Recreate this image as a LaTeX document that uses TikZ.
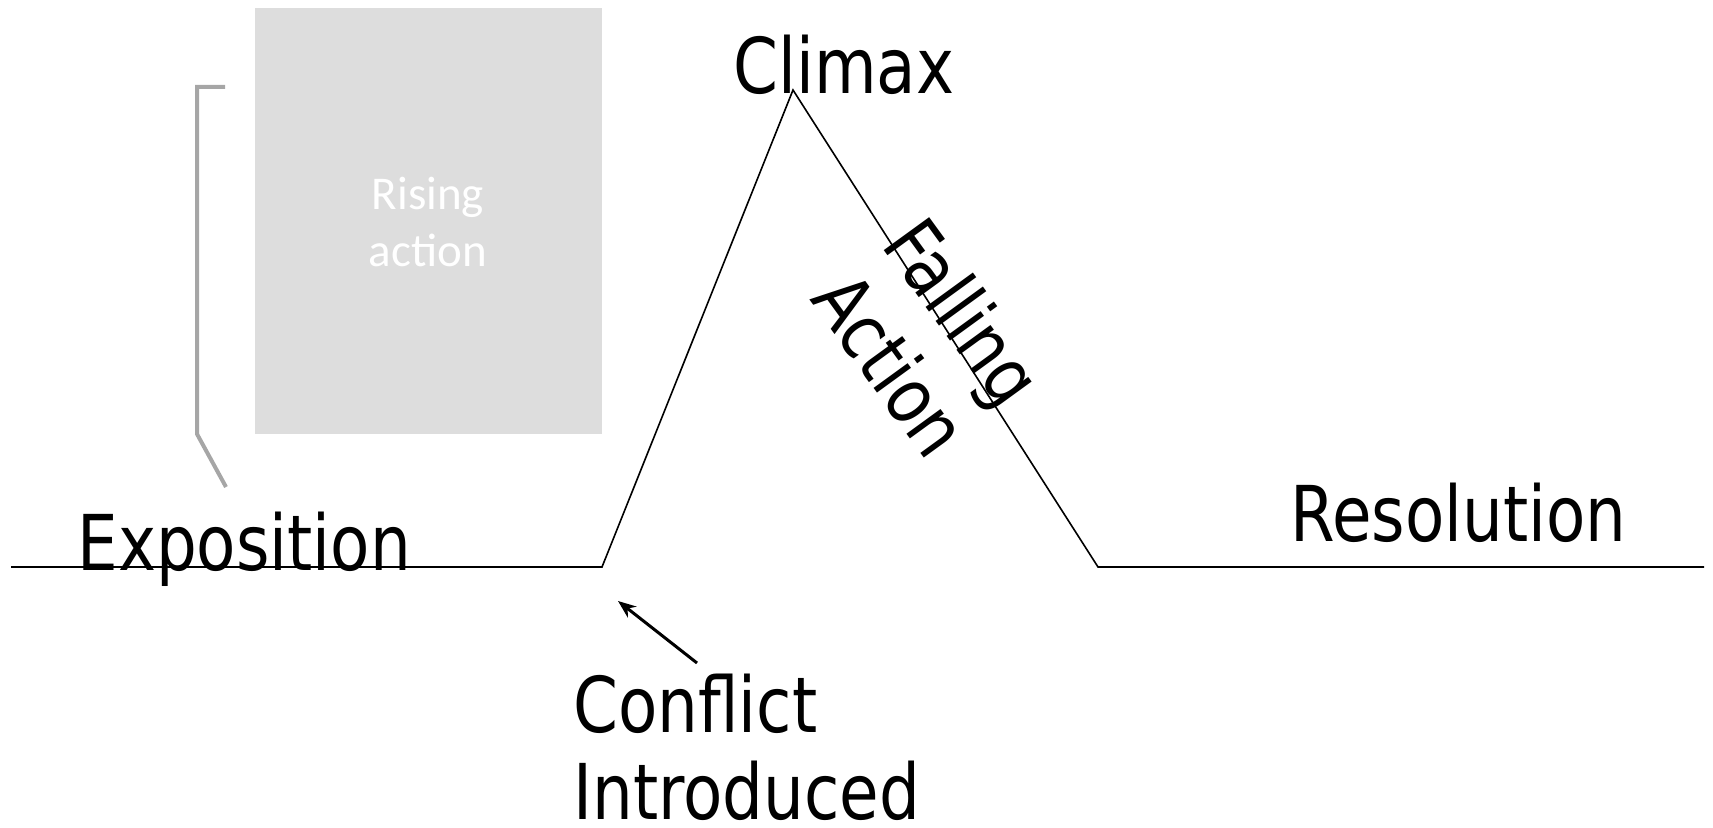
\documentclass[tikz,border=0pt]{standalone}
\usepackage{fontspec}
\setmainfont{DejaVu Sans}[FakeStretch=0.835]
\newfontfamily\calibri{Carlito}
\usetikzlibrary{arrows.meta}
\definecolor{boxgray}{HTML}{DDDDDD}
\definecolor{brgray}{HTML}{A6A6A6}
\begin{document}
\begin{tikzpicture}[x=0.5pt,y=-0.5pt,
  lbl/.style={inner sep=0pt,font=\fontsize{38.5}{43.5}\selectfont},
  plot/.style={draw=black,line width=0.8pt,line join=miter},
  bracketline/.style={draw=brgray,line width=2pt},
  arr/.style={draw=black,line width=1.5pt,-{Stealth[length=9pt,width=7pt]}}]
\useasboundingbox (0,0) rectangle (1713,828);
% rising action box
\node[fill=boxgray,minimum width=173.5pt,minimum height=213pt,inner sep=0pt,anchor=north west] (box) at (255,8) {};
\node[inner sep=0pt,text=white,align=center,font=\calibri\fontsize{23.5}{28.5}\selectfont] (rising) at (428,222) {Rising\\action};
% bracket
\coordinate (b1) at (225,87);
\coordinate (b2) at (197,87);
\coordinate (b3) at (197,434);
\coordinate (b4) at (226,487);
\draw[bracketline] (b1) -- (b2) -- (b3) -- (b4);
% plot line
\coordinate (L) at (11,567);
\coordinate (C1) at (602,567);
\coordinate (P) at (793,90);
\coordinate (C2) at (1098,567);
\coordinate (R) at (1704,567);
\draw[plot] (L) -- (C1) -- (P) -- (C2) -- (R);
% labels
\node[lbl,anchor=base west] (climax) at (733,94) {Climax};
\node[lbl,anchor=base west] (expo) at (77,570) {Exposition};
\node[lbl,anchor=base west] (reso) at (1290,541) {Resolution};
\node[lbl,anchor=base west,align=left] (conf) at (573,819) {Conflict\\Introduced};
\node[lbl,align=center,rotate=-54,font=\fontsize{38.5}{45}\selectfont] (fall) at (928,338) {Falling\\Action};
% arrow
\coordinate (at) at (697,663);
\coordinate (ah) at (618,601);
\draw[arr] (at) -- (ah);
\end{tikzpicture}
\end{document}
